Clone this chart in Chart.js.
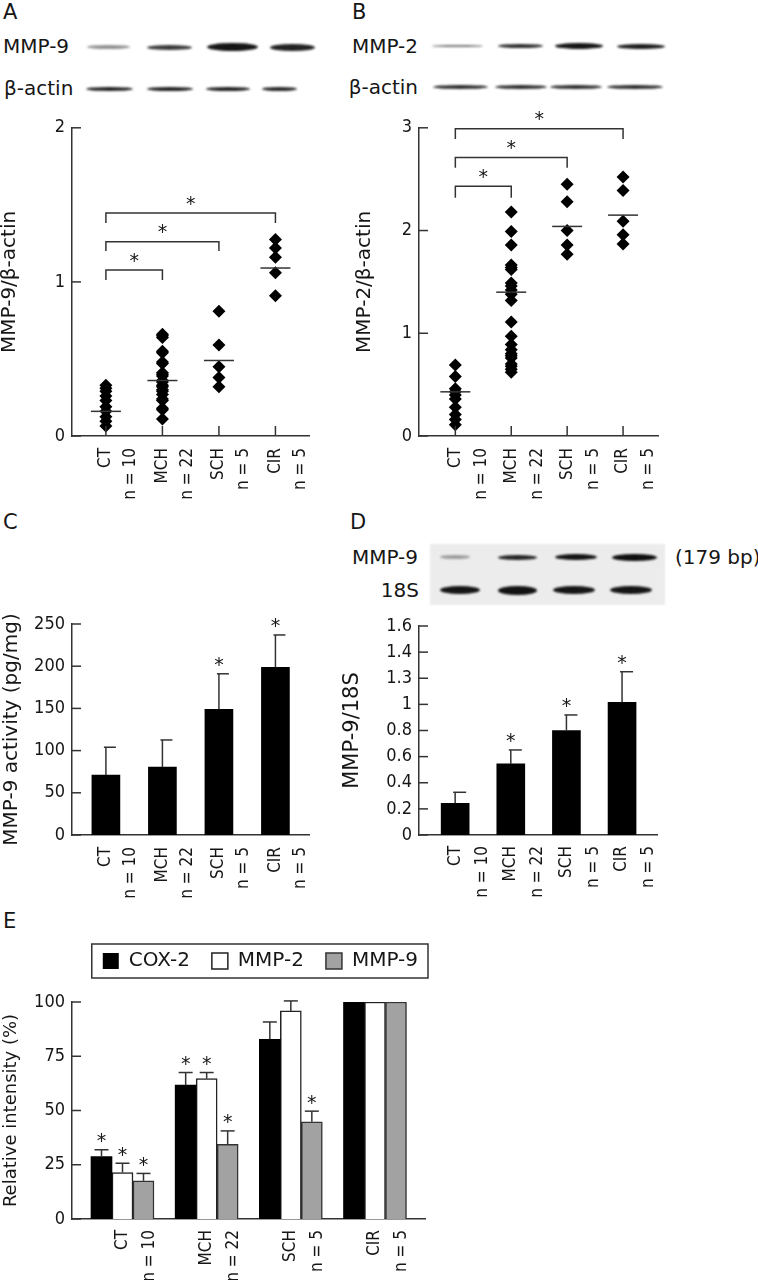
<!DOCTYPE html>
<html><head><meta charset="utf-8">
<script src="https://cdn.jsdelivr.net/npm/chart.js@4.4.1/dist/chart.umd.min.js"></script>
<style>
html,body{margin:0;padding:0;background:#fff;}
#fig{position:relative;width:758px;height:1280px;overflow:hidden;font-family:"DejaVu Sans",sans-serif;color:#161616;}
.t{position:absolute;white-space:nowrap;line-height:1;}
.cv{position:absolute;}
.band{position:absolute;filter:blur(1.1px);}
</style></head><body><div id="fig"></div>
<script>
// ---------------- DATA ----------------
const groups = ['CT', 'MCH', 'SCH', 'CIR'];
const groupN = ['n = 10', 'n = 22', 'n = 5', 'n = 5'];

// Panel A: MMP-9/β-actin (western blot densitometry)
const aCT  = [0.33, 0.31, 0.29, 0.26, 0.23, 0.19, 0.16, 0.125, 0.095, 0.065];
const aMCH = [0.66, 0.65, 0.64, 0.55, 0.54, 0.48, 0.47, 0.41, 0.40, 0.39, 0.36, 0.35, 0.33, 0.32, 0.30, 0.29, 0.27, 0.24, 0.23, 0.18, 0.17, 0.11];
const aSCH = [0.81, 0.59, 0.45, 0.38, 0.32];
const aCIR = [1.275, 1.22, 1.16, 1.06, 0.91];
const aMean = [0.16, 0.36, 0.49, 1.09];
const aBrackets = [[0, 1, 1.077, 1.013], [0, 2, 1.26, 1.20], [0, 3, 1.447, 1.383]];

// Panel B: MMP-2/β-actin
const bCT  = [0.69, 0.58, 0.46, 0.43, 0.40, 0.36, 0.28, 0.21, 0.16, 0.11];
const bMCH = [2.18, 1.99, 1.86, 1.665, 1.64, 1.62, 1.49, 1.46, 1.42, 1.38, 1.32, 1.11, 0.97, 0.89, 0.84, 0.80, 0.78, 0.76, 0.70, 0.68, 0.65, 0.62];
const bSCH = [2.45, 2.28, 2.00, 1.86, 1.77];
const bCIR = [2.52, 2.39, 2.09, 1.96, 1.87];
const bMean = [0.43, 1.40, 2.04, 2.15];
const bBrackets = [[0, 1, 2.43, 2.32], [0, 2, 2.71, 2.61], [0, 3, 2.99, 2.89]];

// Panel C: MMP-9 activity (pg/mg)
const cVals = [71, 80.6, 149, 198.7];
const cErr  = [104, 112.6, 191, 237];
const cStar = [false, false, true, true];

// Panel D: MMP-9/18S
const dVals = [0.243, 0.544, 0.80, 1.016];
const dErr  = [0.327, 0.651, 0.919, 1.25];
const dStar = [false, true, true, true];
const dTickLabels = ['0', '0.2', '0.4', '0.6', '0.8', '1', '1.3', '1.4', '1.6'];

// Panel E: relative intensity (%)
const eSeries = ['COX-2', 'MMP-2', 'MMP-9'];
const eCOX2 = [28.8, 61.7, 82.8, 100];
const eMMP2 = [21.4, 64.7, 95.9, 100];
const eMMP9 = [17.6, 34.4, 44.8, 100];
const eCOX2Err = [31.9, 67.5, 90.8, null];
const eMMP2Err = [25.7, 67.5, 100.5, null];
const eMMP9Err = [21.0, 40.6, 49.7, null];
const eCOX2Star = [true, true, false, false];
const eMMP2Star = [true, true, false, false];
const eMMP9Star = [true, true, true, false];

// blot band intensities (per lane)
const blotA_MMP9  = [0.45, 0.8, 0.95, 0.9];
const blotA_actin = [0.9, 0.9, 0.9, 0.88];
const blotB_MMP2  = [0.55, 0.85, 0.95, 0.92];
const blotB_actin = [0.85, 0.85, 0.85, 0.85];
const blotD_MMP9  = [0.35, 0.88, 0.96, 0.98];
const blotD_18S   = [0.95, 0.97, 0.95, 0.95];

// ---------------- STYLE / LAYOUT ----------------
const TXT = '#161616', AX = '#333';
const LABEL_FONT = '"DejaVu Sans", sans-serif';
const TICK_FONT = '"DejaVu Sans Condensed", "Liberation Sans", sans-serif';
const fig = document.getElementById('fig');

function txt(s, x, cy, size, right) {
  const d = document.createElement('div');
  d.className = 't'; d.textContent = s;
  d.style.fontSize = size + 'px';
  d.style.top = (cy - 0.48 * size) + 'px';
  if (right) d.style.right = (758 - x) + 'px'; else d.style.left = x + 'px';
  fig.appendChild(d);
}
function blotRow(lanes, cy, thick, intens) {
  lanes.forEach(([x0, x1], i) => {
    const d = document.createElement('div');
    d.className = 'band';
    const th = thick[i];
    d.style.left = x0 + 'px'; d.style.width = (x1 - x0) + 'px';
    d.style.top = (cy - th / 2) + 'px'; d.style.height = th + 'px';
    d.style.borderRadius = '50%';
    d.style.background = 'rgba(10,10,10,' + intens[i] + ')';
    fig.appendChild(d);
  });
}
function mkCanvas(left, top, w, h) {
  const c = document.createElement('canvas');
  c.className = 'cv'; c.width = w; c.height = h;
  Object.assign(c.style, {left: left + 'px', top: top + 'px', width: w + 'px', height: h + 'px'});
  fig.appendChild(c);
  return c;
}

// texts
txt('A', 3, 12.5, 21); txt('B', 352, 12.5, 21);
txt('C', 3, 522, 21); txt('D', 350, 522, 21); txt('E', 3, 921, 21);
txt('MMP-9', 3, 46, 20); txt('β-actin', 4, 88, 20);
txt('MMP-2', 418, 46, 20, true); txt('β-actin', 418, 87, 20, true);

// D blot background
(function(){ const d = document.createElement('div');
  Object.assign(d.style, {position:'absolute', left:'430px', top:'544px', width:'235px', height:'61px', background:'#ececec', filter:'blur(1px)'});
  fig.appendChild(d); })();
txt('MMP-9', 418, 557, 20, true); txt('18S', 419, 590, 20, true); txt('(179 bp)', 675, 557, 20);

blotRow([[87,130],[147,192],[207,258],[270,315]], 47, [4,5,8,7], blotA_MMP9);
blotRow([[86,133],[147,193],[206,250],[262,297]], 89, [4,4,4,4], blotA_actin);
blotRow([[432,483],[498,543],[555,603],[617,665]], 46, [2,4,6,5], blotB_MMP2);
blotRow([[433,488],[495,547],[550,602],[607,663]], 87, [4,4,4,4], blotB_actin);
blotRow([[440,470],[498,537],[555,597],[612,657]], 557, [4,5,6,7], blotD_MMP9);
blotRow([[440,480],[498,537],[553,595],[610,652]], 590, [8,9,8,8], blotD_18S);

// ---------------- PLUGIN ----------------
function seg(ctx, x1, y1, x2, y2) { ctx.beginPath(); ctx.moveTo(x1, y1); ctx.lineTo(x2, y2); ctx.stroke(); }
function star(ctx, x, cy) {
  ctx.save(); ctx.fillStyle = TXT; ctx.font = '19px ' + LABEL_FONT;
  ctx.textAlign = 'center'; ctx.textBaseline = 'alphabetic';
  const m = ctx.measureText('*');
  ctx.fillText('*', x, cy + (m.actualBoundingBoxAscent - m.actualBoundingBoxDescent) / 2);
  ctx.restore();
}
const figPlugin = {
  id: 'figPlugin',
  afterDatasetsDraw(chart, args, o) {
    const {ctx, chartArea: ca, scales: {x, y}} = chart;
    ctx.save();
    ctx.strokeStyle = AX; ctx.lineWidth = 1.5;
    y.ticks.forEach(t => { const py = y.getPixelForValue(t.value); seg(ctx, ca.left, py, ca.left + 9, py); });
    if (o.xTicks) x.ticks.forEach(t => { const px = x.getPixelForValue(t.value); seg(ctx, px, ca.bottom, px, ca.bottom - 10); });
    if (o.means) o.means.forEach((m, i) => { const px = x.getPixelForValue(i), py = y.getPixelForValue(m); seg(ctx, px - 15, py, px + 15, py); });
    if (o.brackets) o.brackets.forEach(([a, b, top, leg]) => {
      const xa = x.getPixelForValue(a), xb = x.getPixelForValue(b);
      const yt = y.getPixelForValue(top), yl = y.getPixelForValue(leg);
      ctx.beginPath(); ctx.moveTo(xa, yl); ctx.lineTo(xa, yt); ctx.lineTo(xb, yt); ctx.lineTo(xb, yl); ctx.stroke();
      star(ctx, (xa + xb) / 2, yt - 13);
    });
    chart.data.datasets.forEach((ds, di) => {
      if (!ds.err) return;
      chart.getDatasetMeta(di).data.forEach((bar, j) => {
        const e = ds.err[j];
        let top = bar.y;
        if (e != null) {
          const ey = y.getPixelForValue(e);
          seg(ctx, bar.x, bar.y, bar.x, ey);
          seg(ctx, bar.x - o.capL, ey, bar.x + o.capR, ey);
          top = ey;
        }
        if (ds.stars && ds.stars[j]) star(ctx, bar.x, top - 12);
      });
    });
    ctx.restore();
  },
  afterDraw(chart, args, o) {
    if (!o.legendBox || !chart.legend || !chart.legend.legendHitBoxes) return;
    const hb = chart.legend.legendHitBoxes;
    const l = Math.min(...hb.map(h => h.left)), r = Math.max(...hb.map(h => h.left + h.width));
    const cy = hb[0].top + hb[0].height / 2;
    const ctx = chart.ctx; ctx.save(); ctx.strokeStyle = AX; ctx.lineWidth = 1.5;
    ctx.strokeRect(l - 11, cy - 17, r - l + 21, 34); ctx.restore();
  }
};

function xScale(min, max, height, pad, lh) {
  return {
    type: 'linear', min, max, offset: false,
    grid: {display: false, drawTicks: false, offset: false},
    border: {display: true, color: AX, width: 1.5},
    afterBuildTicks: s => { s.ticks = groups.map((g, i) => ({value: i})); },
    afterFit: s => { s.height = height; },
    ticks: {autoSkip: false, minRotation: 90, maxRotation: 90, padding: pad, color: TXT,
      font: {family: TICK_FONT, size: 17, lineHeight: lh + 'px'},
      callback: v => [groups[v], groupN[v]]}
  };
}
function yScale(min, max, step, width, title, tPad, tSize, cb) {
  return {
    min, max,
    grid: {display: false, drawTicks: false},
    border: {display: true, color: AX, width: 1.5},
    afterFit: s => { s.width = width; },
    ticks: {stepSize: step, padding: 7, color: TXT, font: {family: TICK_FONT, size: 18}, callback: cb || (v => String(v))},
    title: {display: true, text: title, color: TXT, font: {family: LABEL_FONT, size: tSize, lineHeight: 1}, padding: {top: tPad, bottom: 0}}
  };
}
function baseOpts(pad, extra) {
  return Object.assign({
    responsive: false, animation: false, events: [],
    layout: {padding: pad},
    plugins: {legend: {display: false}, tooltip: {enabled: false}}
  }, extra);
}
function scatterSets(lists) {
  return lists.map((arr, i) => ({
    data: arr.map(v => ({x: i, y: v})), pointStyle: 'rectRot', radius: 6.5,
    backgroundColor: '#000', borderColor: '#000', borderWidth: 0, clip: false
  }));
}

// Panel A
new Chart(mkCanvas(0, 110, 340, 400), {
  type: 'scatter',
  data: {datasets: scatterSets([aCT, aMCH, aSCH, aCIR])},
  options: baseOpts({top: 16, right: 18, left: 0, bottom: 0}, {
    scales: {x: xScale(-0.6, 3.6, 74, 12, 25), y: yScale(0, 2, 1, 72, 'MMP-9/β-actin', 0, 20)},
    plugins: {legend: {display: false}, tooltip: {enabled: false},
      figPlugin: {xTicks: true, means: aMean, brackets: aBrackets}}
  }),
  plugins: [figPlugin]
});

// Panel B
new Chart(mkCanvas(340, 110, 350, 400), {
  type: 'scatter',
  data: {datasets: scatterSets([bCT, bMCH, bSCH, bCIR])},
  options: baseOpts({top: 16, right: 20, left: 0, bottom: 0}, {
    scales: {x: xScale(-0.65, 3.63, 74, 12, 26), y: yScale(0, 3, 1, 79, 'MMP-2/β-actin', 15, 20)},
    plugins: {legend: {display: false}, tooltip: {enabled: false},
      figPlugin: {xTicks: true, means: bMean, brackets: bBrackets}}
  }),
  plugins: [figPlugin]
});

// Panel C
new Chart(mkCanvas(0, 600, 340, 310), {
  type: 'bar',
  data: {datasets: [{data: cVals.map((v, i) => ({x: i, y: v})), backgroundColor: '#000', borderWidth: 0,
    barThickness: 28, err: cErr, stars: cStar}]},
  options: baseOpts({top: 24, right: 18, left: 0, bottom: 0}, {
    scales: {x: xScale(-0.6, 3.6, 75, 12, 25), y: yScale(0, 250, 50, 72, 'MMP-9 activity (pg/mg)', 2, 20)},
    plugins: {legend: {display: false}, tooltip: {enabled: false}, figPlugin: {capL: 2, capR: 10}}
  }),
  plugins: [figPlugin]
});

// Panel D
new Chart(mkCanvas(340, 600, 350, 310), {
  type: 'bar',
  data: {datasets: [{data: dVals.map((v, i) => ({x: i, y: v})), backgroundColor: '#000', borderWidth: 0,
    barThickness: 28, err: dErr, stars: dStar}]},
  options: baseOpts({top: 26, right: 20, left: 0, bottom: 0}, {
    scales: {x: xScale(-0.65, 3.63, 75, 11, 27),
      y: yScale(0, 1.6, 0.2, 79, 'MMP-9/18S', 2.5, 21, (v, i) => dTickLabels[i])},
    plugins: {legend: {display: false}, tooltip: {enabled: false}, figPlugin: {capL: 2, capR: 11}}
  }),
  plugins: [figPlugin]
});

// Panel E
const eStyles = [
  {backgroundColor: '#000', borderColor: '#000', borderWidth: 0},
  {backgroundColor: '#fff', borderColor: '#222', borderWidth: 1.5},
  {backgroundColor: '#a2a2a2', borderColor: '#333', borderWidth: 1.5}
];
const eVals = [eCOX2, eMMP2, eMMP9], eErrs = [eCOX2Err, eMMP2Err, eMMP9Err], eStars = [eCOX2Star, eMMP2Star, eMMP9Star];
new Chart(mkCanvas(0, 925, 440, 355), {
  type: 'bar',
  data: {datasets: eSeries.map((name, k) => Object.assign({
    label: name, data: eVals[k].map((v, i) => ({x: i, y: v})), barThickness: 21,
    err: eErrs[k], stars: eStars[k]}, eStyles[k]))},
  options: baseOpts({top: 4, right: 0, left: 0, bottom: 0}, {
    scales: {x: xScale(-0.6, 3.6, 61, 11, 27), y: yScale(0, 100, 25, 72, 'Relative intensity (%)', 2, 18)},
    plugins: {
      tooltip: {enabled: false},
      legend: {display: true, position: 'top', align: 'end',
        labels: {boxWidth: 16, boxHeight: 16, padding: 22, color: TXT, font: {family: LABEL_FONT, size: 20}}},
      title: {display: true, text: ' ', weight: 500, padding: 0, font: {size: 21, lineHeight: 1}},
      figPlugin: {capL: 7, capR: 7, legendBox: true}
    }
  }),
  plugins: [figPlugin]
});
</script></body></html>
